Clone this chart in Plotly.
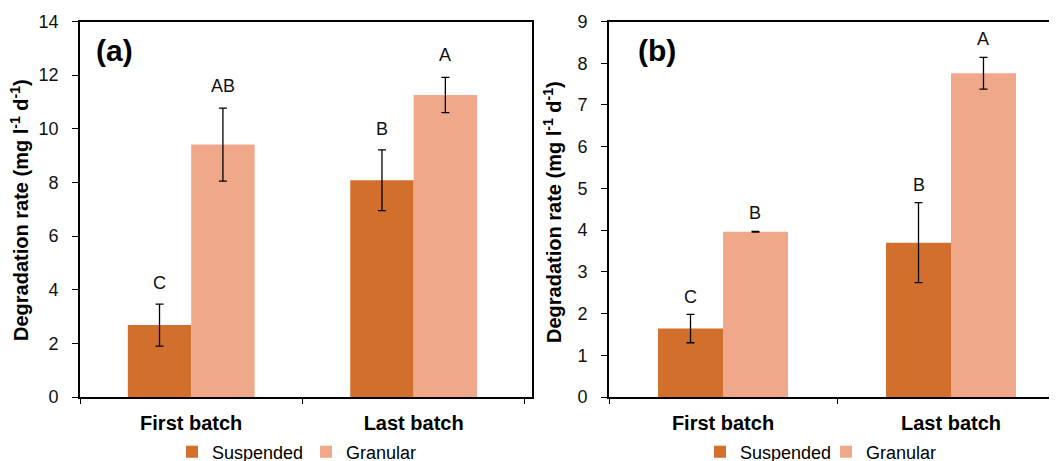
import plotly.graph_objects as go

categories = ["First batch", "Last batch"]

# Panel (a)
a_suspended = [2.68, 8.08]
a_suspended_err = [0.78, 1.13]
a_granular = [9.41, 11.26]
a_granular_err = [1.36, 0.66]
a_susp_letters = ["C", "B"]
a_gran_letters = ["AB", "A"]

# Panel (b)
b_suspended = [1.64, 3.70]
b_suspended_err = [0.34, 0.96]
b_granular = [3.96, 7.76]
b_granular_err = [0.01, 0.38]
b_susp_letters = ["C", "B"]
b_gran_letters = ["B", "A"]

series_names = ["Suspended", "Granular"]
y_title = "Degradation rate (mg l<sup>-1</sup> d<sup>-1</sup>)"

C_SUSP = "#D26F2C"
C_GRAN = "#F0A88B"
FONT = "Arial, Liberation Sans, sans-serif"
W, H = 1057, 461
PAGE_OFFSET = 8  # default body margin of the html page

fig = go.Figure()

def err(arr):
    return dict(type="data", array=arr, color="black", thickness=1.3, width=4)

fig.add_trace(go.Bar(x=categories, y=a_suspended, error_y=err(a_suspended_err),
                     name=series_names[0], marker=dict(color=C_SUSP, line=dict(width=0)),
                     xaxis="x", yaxis="y", legend="legend"))
fig.add_trace(go.Bar(x=categories, y=a_granular, error_y=err(a_granular_err),
                     name=series_names[1], marker=dict(color=C_GRAN, line=dict(width=0)),
                     xaxis="x", yaxis="y", legend="legend"))
fig.add_trace(go.Bar(x=categories, y=b_suspended, error_y=err(b_suspended_err),
                     name=series_names[0], marker=dict(color=C_SUSP, line=dict(width=0)),
                     xaxis="x2", yaxis="y2", legend="legend2"))
fig.add_trace(go.Bar(x=categories, y=b_granular, error_y=err(b_granular_err),
                     name=series_names[1], marker=dict(color=C_GRAN, line=dict(width=0)),
                     xaxis="x2", yaxis="y2", legend="legend2"))

def px_x(p):
    return (p - PAGE_OFFSET) / W

def px_y(p):
    return 1 - (p - PAGE_OFFSET) / H

ydom = [px_y(397), px_y(21.5)]

common_x = dict(showline=True, linecolor="black", linewidth=1.8, mirror=True,
                ticks="outside", tickson="boundaries", ticklen=5, tickcolor="black",
                tickwidth=1.3, showgrid=False, zeroline=False, automargin=False,
                tickfont=dict(family=FONT, size=20, color="black", weight="bold"),
                ticklabelstandoff=7)
common_y = dict(showline=True, linecolor="black", linewidth=1.8,
                ticks="outside", ticklen=6, tickcolor="black", tickwidth=1.3,
                showgrid=False, zeroline=False, domain=ydom, automargin=False,
                tickfont=dict(family=FONT, size=18, color="#111111"),
                ticklabelstandoff=10)

fig.update_layout(
    width=W, height=H,
    margin=dict(l=0, r=0, t=0, b=0, autoexpand=False),
    paper_bgcolor="white", plot_bgcolor="white",
    barmode="group", bargap=0.43, bargroupgap=0,
    font=dict(family=FONT, color="black"),
    xaxis=dict(domain=[px_x(80), px_x(532)], range=[-0.5, 1.532], anchor="y", **common_x),
    yaxis=dict(range=[0, 14], dtick=2, anchor="x", mirror=True, **common_y),
    xaxis2=dict(domain=[px_x(609), 1.0], range=[-0.5, 1.5], anchor="y2", **common_x),
    yaxis2=dict(range=[0, 9], dtick=1, anchor="x2", mirror=True, **common_y),
    legend=dict(orientation="h", x=px_x(172), y=px_y(452), xanchor="left", yanchor="middle",
                font=dict(family=FONT, size=18, color="black"), bgcolor="rgba(0,0,0,0)",
                itemclick=False, tracegroupgap=0, entrywidth=89, entrywidthmode="pixels"),
    legend2=dict(orientation="h", x=px_x(700), y=px_y(452), xanchor="left", yanchor="middle",
                 font=dict(family=FONT, size=18, color="black"), bgcolor="rgba(0,0,0,0)",
                 itemclick=False, tracegroupgap=0, entrywidth=81, entrywidthmode="pixels"),
)

annotations = []

def letters(xref, yref, vals, errs, labs, shift_x, shift_y):
    for c, v, e, t in zip(categories, vals, errs, labs):
        annotations.append(dict(x=c, y=v + e, xref=xref, yref=yref, text=t,
                                showarrow=False, xshift=shift_x, yshift=shift_y,
                                yanchor="middle", xanchor="center",
                                font=dict(family=FONT, size=18, color="#111111")))

letters("x", "y", a_suspended, a_suspended_err, a_susp_letters, -31.7, 21)
letters("x", "y", a_granular, a_granular_err, a_gran_letters, 31.7, 22)
letters("x2", "y2", b_suspended, b_suspended_err, b_susp_letters, -32.3, 17.5)
letters("x2", "y2", b_granular, b_granular_err, b_gran_letters, 32.3, 18)

# panel labels
annotations.append(dict(x=px_x(114.7), y=px_y(50), xref="paper", yref="paper", text="<b>(a)</b>",
                        showarrow=False, xanchor="center", yanchor="middle",
                        font=dict(family=FONT, size=30, color="black")))
annotations.append(dict(x=px_x(656.7), y=px_y(50), xref="paper", yref="paper", text="<b>(b)</b>",
                        showarrow=False, xanchor="center", yanchor="middle",
                        font=dict(family=FONT, size=30, color="black")))
# y-axis titles
annotations.append(dict(x=px_x(19), y=px_y(210), xref="paper", yref="paper", text="<b>" + y_title + "</b>",
                        showarrow=False, textangle=-90, xanchor="center", yanchor="middle",
                        font=dict(family=FONT, size=20, color="black")))
annotations.append(dict(x=px_x(552), y=px_y(212), xref="paper", yref="paper", text="<b>" + y_title + "</b>",
                        showarrow=False, textangle=-90, xanchor="center", yanchor="middle",
                        font=dict(family=FONT, size=20, color="black")))

fig.update_layout(annotations=annotations)

fig.write_html("out.html")
